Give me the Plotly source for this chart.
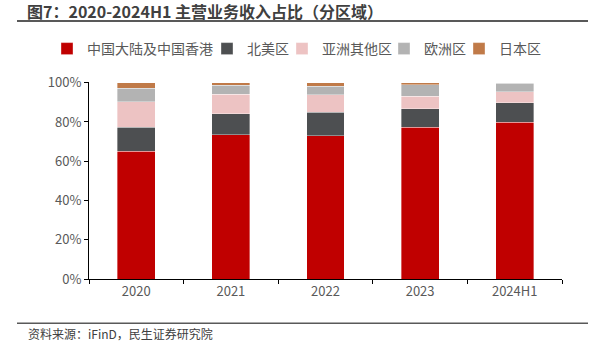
import plotly.graph_objects as go

categories = ["2020", "2021", "2022", "2023", "2024H1"]
mainland_hk = [65.0, 73.6, 73.1, 77.4, 79.8]
north_america = [12.2, 10.6, 11.8, 9.2, 10.0]
other_asia = [13.1, 10.0, 9.0, 6.4, 5.6]
europe = [6.8, 4.4, 4.4, 6.0, 4.2]
japan = [2.9, 1.4, 1.7, 1.0, 0.4]

series_names = ["中国大陆及中国香港", "北美区", "亚洲其他区", "欧洲区", "日本区"]
series_values = [mainland_hk, north_america, other_asia, europe, japan]
series_colors = ["#C00000", "#4D4F51", "#EDC3C3", "#B3B3B3", "#C07A48"]
# left edge of each legend label text in the reference (px)
legend_text_x = [85, 245, 320, 422, 497]

FONT = "Noto Sans CJK SC"
W, H = 605, 341
L, R, T, B = 89, 562, 82.0, 278.7
pw, ph = R - L, B - T


def px(x):
    return (x - L) / pw


def py(y):
    return (B - y) / ph


fig = go.Figure()
legend_layouts = {}
for i, (name, vals, color) in enumerate(zip(series_names, series_values, series_colors)):
    lg = "legend" if i == 0 else f"legend{i + 1}"
    fig.add_trace(go.Bar(
        x=categories, y=vals, name=name, legend=lg, showlegend=True,
        marker=dict(color=color, line=dict(color="rgba(255,255,255,0.6)", width=0.6)),
    ))
    legend_layouts[lg] = dict(
        orientation="h", xref="container", yref="container", visible=True,
        x=(legend_text_x[i] - 38) / W, y=1 - 49 / H, xanchor="left", yanchor="middle",
        font=dict(size=14, color="#595959", family=FONT), itemwidth=30,
        bgcolor="rgba(0,0,0,0)", borderwidth=0,
    )

fig.update_layout(
    width=W, height=H, showlegend=True,
    margin=dict(l=L, r=W - R, t=T, b=H - B, autoexpand=False),
    barmode="stack", bargap=0.6,
    plot_bgcolor="white", paper_bgcolor="white",
    font=dict(family=FONT, color="#595959"),
    title=dict(text="<b>图7：2020-2024H1 主营业务收入占比（分区域）</b>",
               x=27 / W, y=1 - 12.5 / H, xanchor="left", yanchor="middle",
               font=dict(size=16, color="#404040", family=FONT)),
    xaxis=dict(showline=True, linecolor="#000000", linewidth=1, ticks="outside",
               tickson="boundaries", ticklen=4, tickcolor="#000000",
               tickfont=dict(size=13, color="#595959"), showgrid=False),
    yaxis=dict(range=[0, 100.35], tickvals=[0, 20, 40, 60, 80, 100],
               ticktext=["0%", "20%", "40%", "60%", "80%", "100%"], showline=True,
               linecolor="#000000", linewidth=1, ticks="outside", ticklen=4,
               tickcolor="#000000", tickfont=dict(size=13, color="#595959"),
               showgrid=False, zeroline=False),
    shapes=[
        dict(type="line", xref="paper", yref="paper", x0=px(17), x1=px(588),
             y0=py(21), y1=py(21), line=dict(color="#595959", width=2)),
        dict(type="line", xref="paper", yref="paper", x0=px(17), x1=px(588),
             y0=py(323), y1=py(323), line=dict(color="#595959", width=1.5)),
    ],
    annotations=[
        dict(text="资料来源：iFinD，民生证券研究院", xref="paper", yref="paper",
             x=px(26), y=py(333), xanchor="left", yanchor="middle", showarrow=False,
             font=dict(size=12, color="#404040", family=FONT)),
    ],
    **legend_layouts,
)

fig.write_html("out.html")
